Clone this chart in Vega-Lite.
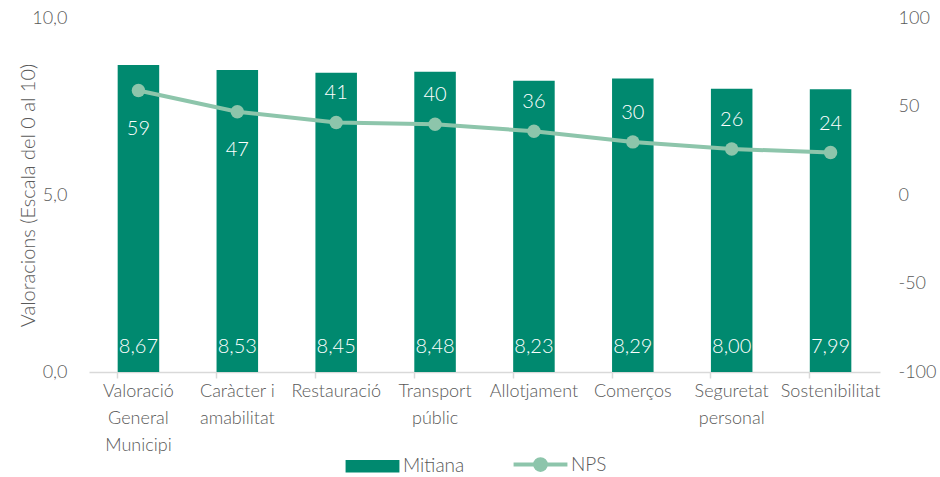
{
  "$schema": "https://vega.github.io/schema/vega-lite/v6.json",
  "width": 791,
  "height": 354,
  "autosize": {"type": "none"},
  "padding": {"left": 89, "top": 18, "right": 60, "bottom": 105},
  "background": "white",
  "config": {
    "view": {"stroke": null},
    "font": "Lato",
    "locale": {"number": {"decimal": ",", "thousands": ".", "grouping": [3], "currency": ["", " €"], "minus": "-"}},
    "legend": {"layout": {"bottom": {"anchor": "middle"}}},
    "axis": {"labelFont": "Lato", "titleFont": "Lato", "labelFontWeight": 300, "titleFontWeight": 300, "labelColor": "#595959", "titleColor": "#595959", "labelFontSize": 18, "titleFontSize": 20, "grid": false}
  },
  "data": {
    "values": [
      {"cat": "Valoració|General|Municipi", "mitiana": 8.67, "nps": 59, "below": true},
      {"cat": "Caràcter i|amabilitat", "mitiana": 8.53, "nps": 47, "below": true},
      {"cat": "Restauració", "mitiana": 8.45, "nps": 41, "below": false},
      {"cat": "Transport|públic", "mitiana": 8.48, "nps": 40, "below": false},
      {"cat": "Allotjament", "mitiana": 8.23, "nps": 36, "below": false},
      {"cat": "Comerços", "mitiana": 8.29, "nps": 30, "below": false},
      {"cat": "Seguretat|personal", "mitiana": 8.00, "nps": 26, "below": false},
      {"cat": "Sostenibilitat", "mitiana": 7.99, "nps": 24, "below": false}
    ]
  },
  "encoding": {
    "x": {
      "field": "cat", "type": "nominal", "sort": null,
      "scale": {"paddingInner": 0.58, "paddingOuter": 0.29},
      "axis": {
        "title": null, "labelAngle": 0, "labelExpr": "split(datum.label, '|')",
        "labelLineHeight": 27, "labelPadding": 4, "labelBaseline": "top",
        "domainColor": "#d9d9d9", "domainWidth": 1.5, "tickColor": "#d9d9d9", "tickWidth": 1.5, "tickSize": 6, "bandPosition": 0
      }
    }
  },
  "layer": [
    {
      "layer": [
        {
          "mark": {"type": "bar"},
          "encoding": {
            "y": {
              "field": "mitiana", "type": "quantitative",
              "scale": {"domain": [0, 10]},
              "axis": {
                "title": "Valoracions (Escala  del 0 al 10)", "values": [0, 5, 10], "format": ".1f",
                "domain": false, "ticks": false, "labelPadding": 22, "titlePadding": -7
              }
            },
            "color": {
              "datum": "Mitiana",
              "scale": {"domain": ["Mitiana", "NPS"], "range": ["#00896F", "#8DC5AB"]},
              "legend": {
                "orient": "bottom", "direction": "horizontal", "title": null, "offset": 1,
                "labelFontSize": 19, "labelColor": "#595959", "labelFont": "Lato", "labelFontWeight": 300,
                "symbolSize": 2900, "labelOffset": 21, "columnPadding": 40,
                "encode": {
                  "symbols": {
                    "update": {
                      "shape": {"signal": "datum.label === 'NPS' ? 'M-1,0L1,0M0.2,0A0.2,0.2,0,1,1,-0.2,0A0.2,0.2,0,1,1,0.2,0Z' : 'M-1,-0.23L1,-0.23L1,0.23L-1,0.23Z'"},
                      "size": {"value": 2900},
                      "fill": {"signal": "datum.label === 'NPS' ? '#8DC5AB' : '#00896F'"},
                      "stroke": {"signal": "datum.label === 'NPS' ? '#8DC5AB' : '#00896F'"},
                      "strokeWidth": {"signal": "datum.label === 'NPS' ? 4 : 0"},
                      "opacity": {"value": 1},
                      "fillOpacity": {"value": 1}
                    }
                  }
                }
              }
            }
          }
        },
        {
          "mark": {"type": "text", "color": "white", "fontSize": 20, "fontWeight": 300, "font": "Lato", "dy": -25, "baseline": "middle"},
          "encoding": {
            "y": {"datum": 0, "type": "quantitative"},
            "text": {"field": "mitiana", "type": "quantitative", "format": ".2f"}
          }
        }
      ]
    },
    {
      "layer": [
        {
          "mark": {"type": "line", "color": "#8DC5AB", "strokeWidth": 4},
          "encoding": {
            "y": {
              "field": "nps", "type": "quantitative",
              "scale": {"domain": [-100, 100]},
              "axis": {"orient": "right", "title": null, "values": [-100, -50, 0, 50, 100], "domain": false, "ticks": false, "labelPadding": 18}
            }
          }
        },
        {
          "mark": {"type": "point", "filled": true, "color": "#8DC5AB", "opacity": 1, "size": 180},
          "encoding": {"y": {"field": "nps", "type": "quantitative"}}
        },
        {
          "transform": [{"filter": "datum.below"}],
          "mark": {"type": "text", "color": "white", "fontSize": 20, "fontWeight": 300, "font": "Lato", "dy": 38, "baseline": "middle"},
          "encoding": {"y": {"field": "nps", "type": "quantitative"}, "text": {"field": "nps", "type": "quantitative"}}
        },
        {
          "transform": [{"filter": "!datum.below"}],
          "mark": {"type": "text", "color": "white", "fontSize": 20, "fontWeight": 300, "font": "Lato", "dy": -29, "baseline": "middle"},
          "encoding": {"y": {"field": "nps", "type": "quantitative"}, "text": {"field": "nps", "type": "quantitative"}}
        }
      ]
    }
  ],
  "resolve": {"scale": {"y": "independent"}}
}
